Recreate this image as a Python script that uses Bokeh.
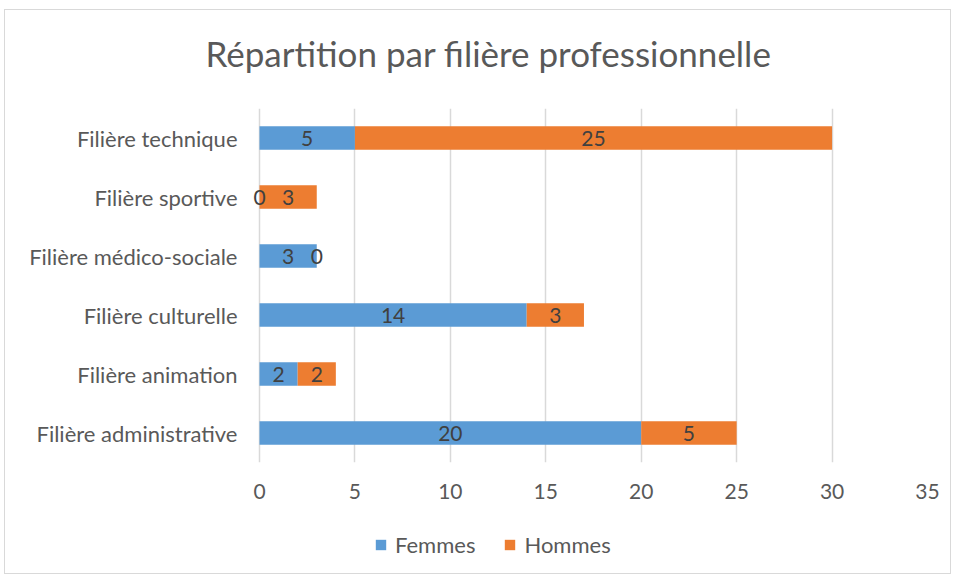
from bokeh.plotting import figure
from bokeh.models import ColumnDataSource, FixedTicker, Legend, LegendItem, FactorRange, Label
from bokeh.layouts import column
from bokeh.core.properties import value
from bokeh.embed import file_html
from bokeh.resources import INLINE

categories = ["Filière administrative", "Filière animation", "Filière culturelle",
              "Filière médico-sociale", "Filière sportive", "Filière technique"]
femmes = [20, 2, 14, 3, 0, 5]
hommes = [5, 2, 3, 0, 3, 25]
x_ticks = [0, 5, 10, 15, 20, 25, 30, 35]
title_text = "Répartition par filière professionnelle"
series_names = ["Femmes", "Hommes"]

FONT = "Lato"
BLUE = "#5B9BD5"
ORANGE = "#ED7D31"
TXT = "#595959"
W = 945
NAN = float("nan")


def no_align(fig):
    if "frame_align" in fig.properties():
        fig.frame_align = False


# ---- title strip ----
p0 = figure(width=W, height=70, x_range=(0, 1), y_range=(0, 1),
            x_axis_type=None, y_axis_type=None, output_backend="svg",
            toolbar_location=None, min_border_left=0, min_border_right=0,
            min_border_top=0, min_border_bottom=0)
no_align(p0)
p0.outline_line_color = None
p0.grid.visible = False
p0.add_layout(Label(x=483, y=28, x_units="screen", y_units="screen", text=title_text,
                    text_align="center", text_baseline="alphabetic", text_font=FONT,
                    text_font_size="35px", text_color=TXT))

# ---- main chart ----
src = ColumnDataSource(dict(
    cat=categories,
    f_left=[0] * len(categories), f_right=femmes,
    h_left=femmes, h_right=[f + h for f, h in zip(femmes, hommes)],
    f_mid=[f / 2 for f in femmes],
    h_mid=[f + h / 2 for f, h in zip(femmes, hommes)],
    f_lab=[str(v) for v in femmes],
    h_lab=[str(v) for v in hommes],
))

# a few pixels of room left of zero so that a "0" label at x=0 is not clipped
x_max = x_ticks[-1]
pad_px, frame_w = 8, 676
x_min = -pad_px * x_max / (frame_w - pad_px)

p = figure(width=W, height=445, y_range=FactorRange(*categories), x_range=(x_min, x_max),
           output_backend="svg", toolbar_location=None,
           min_border_left=246, min_border_right=23, min_border_top=28, min_border_bottom=63)
no_align(p)
p.outline_line_color = None

p.hbar(y="cat", left="f_left", right="f_right", height=0.4, source=src,
       fill_color=BLUE, line_color=None)
p.hbar(y="cat", left="h_left", right="h_right", height=0.4, source=src,
       fill_color=ORANGE, line_color=None)

for xcol, lcol in (("f_mid", "f_lab"), ("h_mid", "h_lab")):
    p.text(x=xcol, y="cat", text=lcol, source=src, text_align="center",
           text_baseline="middle", text_color="#404040", text_font=value(FONT),
           text_font_size="21px")

p.xaxis.ticker = FixedTicker(ticks=x_ticks)
for ax in (p.xaxis, p.yaxis):
    ax.axis_line_color = None
    ax.major_tick_line_color = None
    ax.minor_tick_line_color = None
    ax.major_tick_out = 0
    ax.major_tick_in = 0
    ax.major_label_text_font = FONT
    ax.major_label_text_color = TXT
p.xaxis.major_label_text_font_size = "21px"
p.yaxis.major_label_text_font_size = "22px"
p.xaxis.major_label_standoff = 21
p.yaxis.major_label_standoff = 14

p.xgrid.grid_line_color = "#D9D9D9"
p.xgrid.grid_line_width = 1.5
p.ygrid.grid_line_color = None

# ---- legend strip ----
p2 = figure(width=W, height=48, x_range=(0, 1), y_range=(0, 1),
            x_axis_type=None, y_axis_type=None, output_backend="svg",
            toolbar_location=None, min_border_left=0, min_border_right=0,
            min_border_top=0, min_border_bottom=0)
no_align(p2)
p2.outline_line_color = None
p2.grid.visible = False
lf = p2.hbar(y=[NAN], left=[NAN], right=[NAN], height=0.4, fill_color=BLUE, line_color=None)
lh = p2.hbar(y=[NAN], left=[NAN], right=[NAN], height=0.4, fill_color=ORANGE, line_color=None)
legend = Legend(items=[LegendItem(label=series_names[0], renderers=[lf]),
                       LegendItem(label=series_names[1], renderers=[lh])],
                orientation="horizontal", location=(369, 15),
                glyph_width=13, glyph_height=13, label_standoff=8, spacing=28,
                padding=0, margin=0, border_line_color=None, background_fill_alpha=0,
                label_text_font=FONT, label_text_font_size="22px", label_text_color=TXT)
p2.add_layout(legend)

layout = column(p0, p, p2, styles={"border": "1px solid #D9D9D9",
                                   "margin-left": "4px", "margin-top": "9px"})

open("out.html", "w").write(file_html(layout, INLINE))
